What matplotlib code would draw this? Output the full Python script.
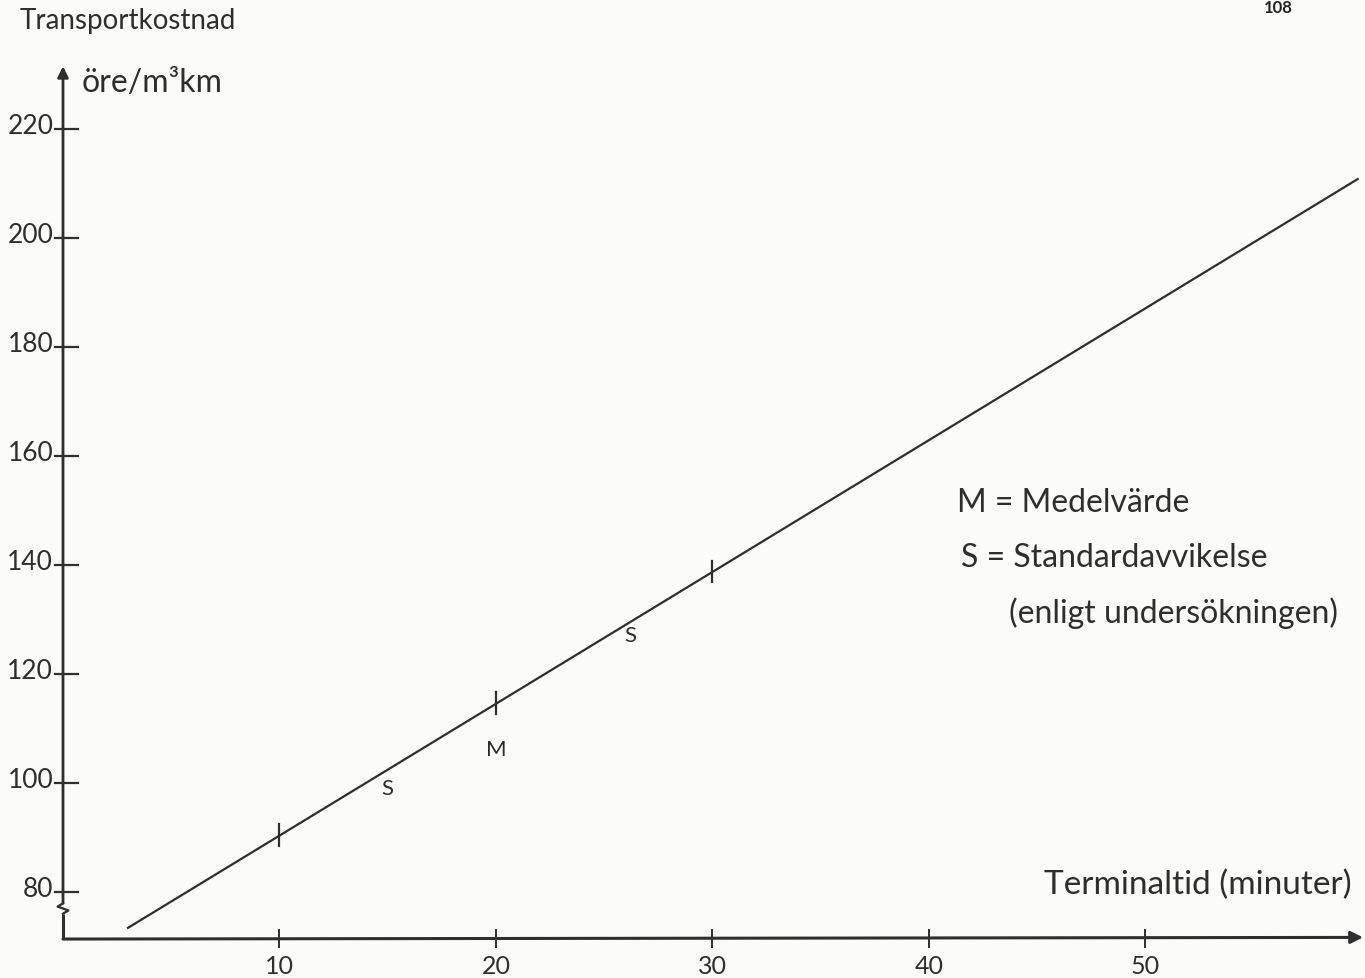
import numpy as np
import matplotlib
matplotlib.use("Agg")
import matplotlib.pyplot as plt

# Transport cost as a function of terminal time
terminaltid = [3.0, 59.8]          # minutes
kostnad = [73.4, 210.8]            # öre per m³km

# Marked points on the line: mean (M) and ± one standard deviation (S)
mark_t = [10, 20, 30]
mark_cost = [90.4, 114.6, 138.8]

# Axis ticks
y_ticks = [80, 100, 120, 140, 160, 180, 200, 220]
x_ticks = [10, 20, 30, 40, 50]

ink = "#2e2e2e"
font = ["Lato", "DejaVu Sans"]

fig = plt.figure(figsize=(13.65, 9.79), dpi=100)
fig.patch.set_facecolor("#fbfbfa")
ax = fig.add_axes([0, 0, 1, 1])
ax.set_facecolor("#fbfbfa")
ax.set_xlim(-2.91, 60.14)
ax.set_ylim(64.2, 243.85)
ax.axis("off")

x_base = 0.0
y_base = 71.35

# y axis with a break near the bottom and an arrow on top
ax.plot([x_base, x_base], [y_base, 76.0], color=ink, lw=2.2, solid_capstyle="butt")
zig_x = [0, 0.25, -0.25, 0]
zig_y = [76.0, 76.6, 77.3, 77.9]
ax.plot(zig_x, zig_y, color=ink, lw=1.6)
ax.annotate("", xy=(x_base, 231.5), xytext=(x_base, 77.9),
            arrowprops=dict(arrowstyle="-|>", color=ink, lw=2.0,
                            mutation_scale=16, shrinkA=0, shrinkB=0))

# x axis with arrow
ax.annotate("", xy=(60.05, y_base + 0.3), xytext=(x_base, y_base),
            arrowprops=dict(arrowstyle="-|>", color=ink, lw=2.2,
                            mutation_scale=18, shrinkA=0, shrinkB=0))

# y ticks and labels
for v in y_ticks:
    ax.plot([-0.35, 0.7], [v, v], color=ink, lw=1.6)
    ax.text(-0.45, v + 0.6, str(v), ha="right", va="center", fontsize=19,
            color=ink, family=font)

# x ticks and labels
for v in x_ticks:
    ax.plot([v, v], [y_base - 1.4, y_base + 1.6], color=ink, lw=1.4)
    ax.text(v, y_base - 4.8, str(v), ha="center", va="center", fontsize=18,
            color=ink, family=font)

# cost line
ax.plot(terminaltid, kostnad, color=ink, lw=1.6)

# M and S markers on the line
for t, c in zip(mark_t, mark_cost):
    ax.plot([t, t], [c - 2.0, c + 2.0], color=ink, lw=1.6)

ax.text(20.0, 106.3, "M", ha="center", va="center", fontsize=16,
        color=ink, family=font)
ax.text(15.0, 99.1, "S", ha="center", va="center", fontsize=16,
        color=ink, family=font)
ax.text(26.2, 127.2, "S", ha="center", va="center", fontsize=16,
        color=ink, family=font)

# axis titles
ax.text(-2.0, 240.0, "Transportkostnad", ha="left", va="center", fontsize=20,
        color=ink, family=font)
ax.text(0.85, 228.7, "öre/m³km", ha="left", va="center", fontsize=23,
        color=ink, family=font)
ax.text(59.5, 81.4, "Terminaltid (minuter)", ha="right", va="center",
        fontsize=24, color=ink, family=font)

# legend text
ax.text(41.3, 151.6, "M = Medelvärde", ha="left", va="center", fontsize=23,
        color=ink, family=font)
ax.text(41.5, 141.5, "S = Standardavvikelse", ha="left", va="center",
        fontsize=23, color=ink, family=font)
ax.text(43.7, 131.4, "(enligt undersökningen)", ha="left", va="center",
        fontsize=23, color=ink, family=font)

# page number
ax.text(56.15, 243.85, "108", ha="center", va="top", fontsize=12,
        color="#222222", family=font, fontweight="bold")

fig.savefig("out.png", dpi=100, facecolor=fig.get_facecolor())
